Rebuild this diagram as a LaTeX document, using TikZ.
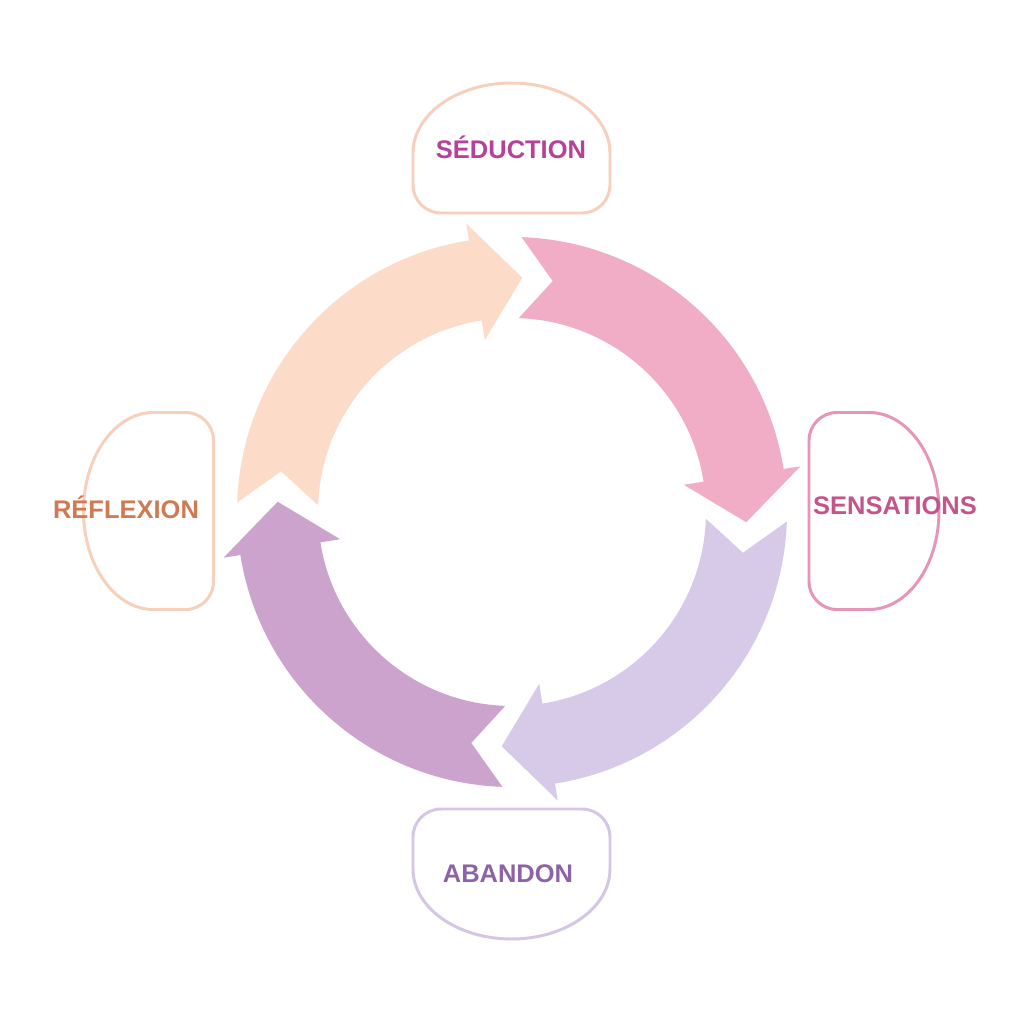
\documentclass[tikz,border=0pt]{standalone}
\usepackage{fontspec}
\setmainfont{Liberation Sans}
\usetikzlibrary{calc}
\definecolor{PeachArrow}{RGB}{252,219,200}
\definecolor{PinkArrow}{RGB}{241,172,198}
\definecolor{LavArrow}{RGB}{215,202,233}
\definecolor{PlumArrow}{RGB}{203,163,205}
\definecolor{PeachLine}{RGB}{246,208,186}
\definecolor{PinkLine}{RGB}{229,150,184}
\definecolor{LavLine}{RGB}{212,199,229}
\definecolor{SeducText}{RGB}{184,64,152}
\definecolor{SensText}{RGB}{196,84,138}
\definecolor{AbanText}{RGB}{141,99,168}
\definecolor{RefText}{RGB}{208,122,84}
% one quarter of the cycle: tail angle, colour
\newcommand{\cyclearrow}[2]{%
  \fill[#2] (#1:275) -- (#1-8:234.5) -- (#1:194)
    arc[start angle=#1,end angle=#1-79,radius=194]
    -- (#1-79:174) -- (#1-90.5:234.5) -- (#1-79:292) -- (#1-79:275)
    arc[start angle=#1-79,end angle=#1,radius=275] -- cycle;}
% label frame: centre x, centre y, rotation, colour
\newcommand{\stageframe}[4]{%
  \draw[frameline,#4,shift={(#1,#2)},rotate=#3]
    (-70.5,-65) -- (70.5,-65) arc[start angle=-90,end angle=0,radius=28]
    -- (98.5,-5)
    arc[start angle=0,end angle=180,x radius=98.5,y radius=70]
    -- (-98.5,-37) arc[start angle=180,end angle=270,radius=28] -- cycle;}

\begin{document}
\begin{tikzpicture}[scale=0.02,
    frameline/.style={line width=1.7pt,line join=round},
    stagetext/.style={font=\fontsize{14.5}{17}\selectfont\bfseries}]
  \useasboundingbox[fill=white] (-512,-512) rectangle (512,512);
  % arrows of the cycle
  \cyclearrow{178}{PeachArrow}
  \cyclearrow{88}{PinkArrow}
  \cyclearrow{-2}{LavArrow}
  \cyclearrow{-92}{PlumArrow}
  % frames
  \stageframe{-0.5}{364}{0}{PeachLine}
  \stageframe{362}{1}{-90}{PinkLine}
  \stageframe{-0.5}{-362}{180}{LavLine}
  \stageframe{-363.5}{1}{90}{PeachLine}
  % labels
  \node[stagetext,SeducText] (seduction) at (-1,364.5) {SÉDUCTION};
  \node[stagetext,SensText] (sensations) at (383,6) {SENSATIONS};
  \node[stagetext,AbanText] (abandon) at (-4,-362) {ABANDON};
  \node[stagetext,RefText] (reflexion) at (-386,5) {RÉFLEXION};
\end{tikzpicture}
\end{document}
